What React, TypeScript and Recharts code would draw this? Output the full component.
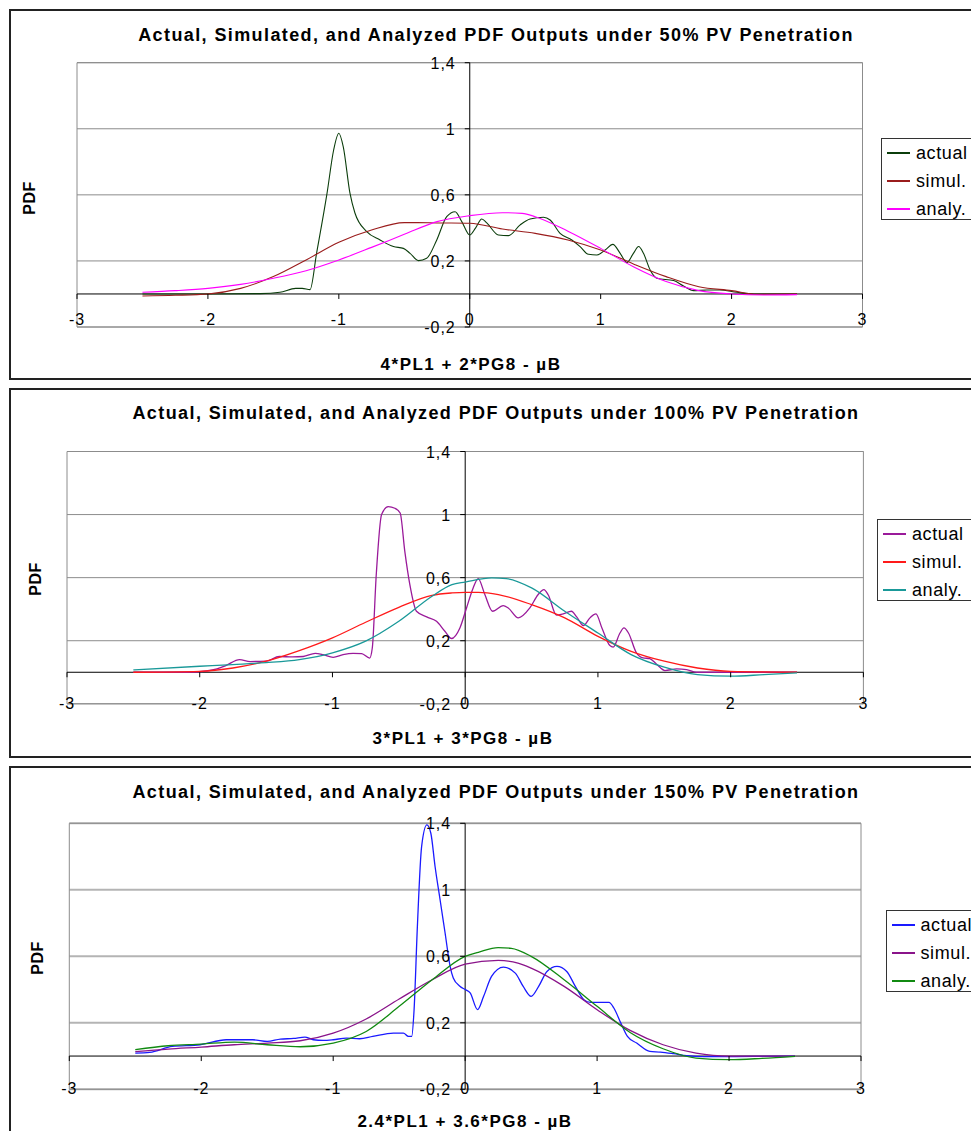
import React from 'react';
import { LineChart, Line, XAxis, YAxis, CartesianGrid, ReferenceLine } from 'recharts';

type Pt = [number, number];

// ---------- axis ticks and labels ----------
const X_TICKS = [-3, -2, -1, 0, 1, 2, 3];
const Y_TICKS = [-0.2, 0.2, 0.6, 1, 1.4];
const X_DOMAIN: [number, number] = [-3, 3];
const Y_DOMAIN: [number, number] = [-0.2, 1.4];
const SERIES_NAMES = ['actual', 'simul.', 'analy.'];

const TITLES = [
  'Actual, Simulated, and Analyzed PDF Outputs under 50% PV Penetration',
  'Actual, Simulated, and Analyzed PDF Outputs under 100% PV Penetration',
  'Actual, Simulated, and Analyzed PDF Outputs under 150% PV Penetration',
];
const X_TITLES = ['4*PL1 + 2*PG8 - µB', '3*PL1 + 3*PG8 - µB', '2.4*PL1 + 3.6*PG8 - µB'];
const Y_TITLE = 'PDF';

// ---------- 50% PV penetration ----------
const actual50: Pt[] = [
  [-2.5, 0], [-2.0, 0], [-1.6, 0.002], [-1.45, 0.01], [-1.33, 0.034], [-1.28, 0.034], [-1.22, 0.026],
  [-1.17, 0.246], [-1.09, 0.61], [-1.04, 0.87], [-1.0, 0.973], [-0.966, 0.89], [-0.915, 0.61],
  [-0.877, 0.49], [-0.787, 0.377], [-0.685, 0.327], [-0.583, 0.287], [-0.507, 0.276], [-0.456, 0.246],
  [-0.392, 0.202], [-0.329, 0.216], [-0.252, 0.327], [-0.176, 0.468], [-0.112, 0.498], [-0.061, 0.438],
  [0, 0.357], [0.045, 0.4], [0.092, 0.454], [0.13, 0.43], [0.219, 0.357], [0.296, 0.353], [0.385, 0.418],
  [0.461, 0.454], [0.563, 0.464], [0.614, 0.448], [0.69, 0.367], [0.78, 0.327], [0.843, 0.287],
  [0.907, 0.24], [0.97, 0.236], [1.034, 0.266], [1.093, 0.3], [1.149, 0.246], [1.2, 0.19], [1.25, 0.246],
  [1.29, 0.287], [1.327, 0.246], [1.378, 0.145], [1.43, 0.095], [1.557, 0.081], [1.633, 0.048],
  [1.71, 0.02], [1.81, 0.024], [1.91, 0.024], [2.04, 0.01], [2.17, 0], [2.5, 0],
];
const simul50: Pt[] = [
  [-2.5, -0.012], [-2.25, -0.008], [-2.0, 0], [-1.75, 0.034], [-1.5, 0.105], [-1.25, 0.206], [-1.0, 0.313],
  [-0.75, 0.387], [-0.5, 0.432], [-0.4, 0.432], [-0.25, 0.43], [0, 0.428], [0.25, 0.393], [0.5, 0.367],
  [0.75, 0.327], [1.0, 0.266], [1.25, 0.182], [1.5, 0.105], [1.75, 0.044], [2.0, 0.02], [2.2, -0.002], [2.5, 0],
];
const analy50: Pt[] = [
  [-2.5, 0.01], [-2.25, 0.02], [-2.0, 0.034], [-1.75, 0.058], [-1.5, 0.095], [-1.25, 0.141], [-1.0, 0.206],
  [-0.75, 0.282], [-0.5, 0.361], [-0.25, 0.438], [0, 0.474], [0.25, 0.492], [0.4, 0.488], [0.5, 0.468],
  [0.75, 0.38], [1.0, 0.276], [1.25, 0.165], [1.5, 0.075], [1.75, 0.02], [2.0, 0], [2.25, -0.006], [2.5, -0.004],
];

// ---------- 100% PV penetration ----------
const actual100: Pt[] = [
  [-2.5, 0], [-2.1, 0], [-1.95, 0.008], [-1.87, 0.021], [-1.8, 0.044], [-1.7, 0.08], [-1.62, 0.068],
  [-1.5, 0.07], [-1.4, 0.1], [-1.3, 0.097], [-1.22, 0.1], [-1.13, 0.12], [-1.07, 0.112], [-0.995, 0.095],
  [-0.92, 0.112], [-0.845, 0.12], [-0.78, 0.118], [-0.72, 0.09], [-0.7, 0.154], [-0.67, 0.62], [-0.63, 1.0],
  [-0.58, 1.05], [-0.53, 1.04], [-0.49, 1.01], [-0.455, 0.767], [-0.417, 0.556], [-0.367, 0.387],
  [-0.29, 0.351], [-0.216, 0.323], [-0.153, 0.26], [-0.103, 0.214], [-0.04, 0.281], [0.01, 0.408],
  [0.06, 0.535], [0.098, 0.594], [0.148, 0.493], [0.206, 0.387], [0.286, 0.423], [0.324, 0.408],
  [0.4, 0.345], [0.487, 0.408], [0.55, 0.493], [0.593, 0.524], [0.626, 0.49], [0.688, 0.362],
  [0.739, 0.37], [0.8, 0.387], [0.84, 0.351], [0.89, 0.296], [0.94, 0.345], [0.985, 0.37], [1.03, 0.281],
  [1.09, 0.169], [1.115, 0.16], [1.166, 0.249], [1.196, 0.281], [1.23, 0.249], [1.29, 0.123],
  [1.34, 0.091], [1.39, 0.087], [1.44, 0.053], [1.505, 0.011], [1.593, 0.021], [1.668, 0.017],
  [1.74, 0], [2.5, 0],
];
const simul100: Pt[] = [
  [-2.5, 0], [-2.0, 0.006], [-1.75, 0.027], [-1.5, 0.07], [-1.25, 0.137], [-1.0, 0.218], [-0.75, 0.317],
  [-0.5, 0.412], [-0.25, 0.488], [-0.1, 0.503], [0, 0.507], [0.1, 0.507], [0.25, 0.493], [0.5, 0.429],
  [0.75, 0.345], [1.0, 0.228], [1.25, 0.133], [1.5, 0.07], [1.75, 0.027], [2.0, 0.006], [2.5, 0],
];
const analy100: Pt[] = [
  [-2.5, 0.015], [-2.0, 0.038], [-1.75, 0.049], [-1.5, 0.061], [-1.25, 0.08], [-1.0, 0.123], [-0.75, 0.197],
  [-0.5, 0.323], [-0.25, 0.482], [-0.1, 0.556], [0, 0.572], [0.2, 0.598], [0.31, 0.594], [0.5, 0.535],
  [0.75, 0.387], [1.0, 0.249], [1.25, 0.112], [1.5, 0.032], [1.75, -0.015], [2.0, -0.025], [2.25, -0.015],
  [2.5, -0.004],
];

// ---------- 150% PV penetration ----------
const actual150: Pt[] = [
  [-2.5, 0.018], [-2.39, 0.022], [-2.22, 0.058], [-2.01, 0.068], [-1.81, 0.098], [-1.61, 0.098],
  [-1.5, 0.088], [-1.4, 0.102], [-1.3, 0.106], [-1.215, 0.114], [-1.15, 0.098], [-1.076, 0.094],
  [-1.0, 0.098], [-0.9, 0.108], [-0.8, 0.104], [-0.7, 0.118], [-0.544, 0.138], [-0.468, 0.138],
  [-0.43, 0.118], [-0.405, 0.118], [-0.387, 0.279], [-0.362, 0.78], [-0.33, 1.26], [-0.29, 1.39],
  [-0.26, 1.34], [-0.228, 1.14], [-0.19, 0.94], [-0.152, 0.74], [-0.114, 0.54], [-0.09, 0.47],
  [-0.04, 0.42], [0, 0.4], [0.038, 0.38], [0.094, 0.279], [0.14, 0.359], [0.2, 0.479], [0.29, 0.535],
  [0.38, 0.499], [0.44, 0.419], [0.5, 0.359], [0.557, 0.419], [0.62, 0.509], [0.696, 0.539],
  [0.77, 0.509], [0.835, 0.419], [0.9, 0.339], [0.95, 0.323], [1.025, 0.323], [1.09, 0.323],
  [1.127, 0.289], [1.18, 0.198], [1.23, 0.118], [1.3, 0.078], [1.4, 0.028], [1.48, 0.024],
  [1.58, 0.014], [1.68, 0.002], [1.81, -0.004], [2.19, -0.002], [2.5, 0],
];
const simul150: Pt[] = [
  [-2.5, 0.026], [-2.25, 0.042], [-2.0, 0.054], [-1.75, 0.068], [-1.5, 0.078], [-1.25, 0.092], [-1.0, 0.138],
  [-0.75, 0.223], [-0.5, 0.343], [-0.25, 0.459], [0, 0.553], [0.25, 0.575], [0.4, 0.559], [0.5, 0.529],
  [0.75, 0.419], [1.0, 0.279], [1.25, 0.154], [1.5, 0.068], [1.75, 0.018], [2.0, 0], [2.5, 0],
];
const analy150: Pt[] = [
  [-2.5, 0.038], [-2.25, 0.062], [-2.0, 0.072], [-1.75, 0.084], [-1.5, 0.068], [-1.25, 0.056], [-1.0, 0.078],
  [-0.75, 0.148], [-0.5, 0.299], [-0.25, 0.459], [0, 0.6], [0.1, 0.624], [0.25, 0.652], [0.35, 0.648],
  [0.5, 0.6], [0.75, 0.459], [1.0, 0.299], [1.25, 0.142], [1.5, 0.044], [1.75, -0.012], [2.0, -0.022],
  [2.25, -0.014], [2.5, -0.002],
];

const SERIES_DATA: Pt[][][] = [
  [actual50, simul50, analy50],
  [actual100, simul100, analy100],
  [actual150, simul150, analy150],
];
const SERIES_COLORS = [
  ['#0b3d0b', '#9a1c1c', '#ff00ff'],
  ['#9a1a9a', '#ff1a1a', '#1a9999'],
  ['#1a1aff', '#8a148a', '#118a11'],
];

// ---------- layout ----------
const FONT = '"Liberation Sans", Arial, Helvetica, sans-serif';
const CHART_W = 1000;
const AXIS_BAND = 1; // thickness reserved for each (invisible) axis band
const TICK_FONT = 16;

interface Layout {
  top: number;
  height: number;
  plotLeft: number;
  plotRight: number;
  plotTop: number;
  plotBottom: number;
  titleY: number;
  xTitleX: number;
  xTitleY: number;
  yTitleX: number;
  yTitleY: number;
  legendLeft: number;
  legendTop: number;
  xLabelDy: number;
  gridColor: string;
  gridWidth: number;
  lineWidth: number;
}

const LAYOUTS: Layout[] = [
  {
    top: 9, height: 371, plotLeft: 77, plotRight: 862.5, plotTop: 62.7, plotBottom: 327,
    titleY: 34.5, xTitleX: 471, xTitleY: 364, yTitleX: 30, yTitleY: 197.5,
    legendLeft: 881, legendTop: 138, xLabelDy: 31.5, gridColor: '#8c8c8c', gridWidth: 1, lineWidth: 1.1,
  },
  {
    top: 387.5, height: 370, plotLeft: 67, plotRight: 863.4, plotTop: 451, plotBottom: 703.3,
    titleY: 413, xTitleX: 463, xTitleY: 737.5, yTitleX: 36, yTitleY: 578.5,
    legendLeft: 877, legendTop: 519, xLabelDy: 37, gridColor: '#8c8c8c', gridWidth: 1, lineWidth: 1.3,
  },
  {
    top: 766, height: 380, plotLeft: 69.3, plotRight: 861, plotTop: 823.3, plotBottom: 1089.3,
    titleY: 791.5, xTitleX: 465, xTitleY: 1120.5, yTitleX: 38, yTitleY: 957.5,
    legendLeft: 885.5, legendTop: 910, xLabelDy: 37.5, gridColor: '#b4b4b4', gridWidth: 2, lineWidth: 1.3,
  },
];

const fmtComma = (v: number) => String(Math.round(v * 10) / 10).replace('.', ',');

function PdfPanel({ index }: { index: number }) {
  const L = LAYOUTS[index];
  const data = SERIES_DATA[index];
  const colors = SERIES_COLORS[index];

  const plotW = L.plotRight - L.plotLeft;
  const plotH = L.plotBottom - L.plotTop;
  // pixel position of the crossing axes inside the chart's svg
  const zeroY = L.plotTop - L.top + (plotH * (Y_DOMAIN[1] - 0)) / (Y_DOMAIN[1] - Y_DOMAIN[0]);
  const zeroX = L.plotLeft + (plotW * (0 - X_DOMAIN[0])) / (X_DOMAIN[1] - X_DOMAIN[0]);

  const XTick = (props: any) => {
    const { x, payload } = props;
    return (
      <g>
        <line x1={x} x2={x} y1={zeroY} y2={zeroY + 5} stroke="#000" strokeWidth={1} />
        <text x={x} y={zeroY + L.xLabelDy} textAnchor="middle" fontSize={TICK_FONT} fontFamily={FONT} fill="#000" letterSpacing={1}>
          {payload.value}
        </text>
      </g>
    );
  };

  const YTick = (props: any) => {
    const { y, payload } = props;
    return (
      <g>
        <line x1={zeroX - 5} x2={zeroX} y1={y} y2={y} stroke="#000" strokeWidth={1} />
        <text x={zeroX - 14} y={y + 6} textAnchor="end" fontSize={TICK_FONT} fontFamily={FONT} fill="#000" letterSpacing={1}>
          {fmtComma(payload.value)}
        </text>
      </g>
    );
  };

  const textBase: React.CSSProperties = {
    position: 'absolute',
    fontFamily: FONT,
    fontWeight: 'bold',
    lineHeight: 1,
    whiteSpace: 'nowrap',
    color: '#000',
  };

  return (
    <>
      <div
        style={{
          position: 'absolute', left: 9, top: L.top, width: 1010, height: L.height,
          border: '2px solid #222', boxSizing: 'border-box', background: '#fff',
        }}
      />
      <div style={{ position: 'absolute', left: 0, top: L.top }}>
        <LineChart
          width={CHART_W}
          height={L.height}
          margin={{
            top: L.plotTop - L.top,
            bottom: L.top + L.height - L.plotBottom - AXIS_BAND,
            left: L.plotLeft - AXIS_BAND,
            right: CHART_W - L.plotRight,
          }}
        >
          <CartesianGrid vertical={false} stroke={L.gridColor} strokeWidth={L.gridWidth} />
          <XAxis
            type="number" dataKey="0" domain={X_DOMAIN} ticks={X_TICKS} interval={0}
            allowDataOverflow height={AXIS_BAND} axisLine={false} tickLine={false} tickSize={0} tick={XTick}
          />
          <YAxis
            type="number" domain={Y_DOMAIN} ticks={Y_TICKS} interval={0}
            allowDataOverflow width={AXIS_BAND} axisLine={false} tickLine={false} tickSize={0} tick={YTick}
          />
          <ReferenceLine y={Y_DOMAIN[1]} stroke="#8c8c8c" />
          <ReferenceLine y={Y_DOMAIN[0]} stroke="#8c8c8c" />
          <ReferenceLine x={X_DOMAIN[0]} stroke="#8c8c8c" />
          <ReferenceLine x={X_DOMAIN[1]} stroke="#8c8c8c" />
          <ReferenceLine y={0} stroke="#000" />
          <ReferenceLine x={0} stroke="#000" />
          {data.map((series, i) => (
            <Line
              key={SERIES_NAMES[i]}
              name={SERIES_NAMES[i]}
              data={series}
              dataKey="1"
              type="monotone"
              stroke={colors[i]}
              strokeWidth={L.lineWidth}
              dot={false}
              activeDot={false}
              isAnimationActive={false}
            />
          ))}
        </LineChart>
      </div>

      <div style={{ ...textBase, left: 496, top: L.titleY, fontSize: 18, letterSpacing: 1.4, transform: 'translate(-50%, -50%)' }}>
        {TITLES[index]}
      </div>
      <div style={{ ...textBase, left: L.xTitleX, top: L.xTitleY, fontSize: 17, letterSpacing: 1.5, transform: 'translate(-50%, -50%)' }}>
        {X_TITLES[index]}
      </div>
      <div style={{ ...textBase, left: L.yTitleX, top: L.yTitleY, fontSize: 16, letterSpacing: 0.5, transform: 'translate(-50%, -50%) rotate(-90deg)' }}>
        {Y_TITLE}
      </div>

      <div
        style={{
          position: 'absolute', left: L.legendLeft, top: L.legendTop, width: 110, height: 82,
          border: '1px solid #333', boxSizing: 'border-box', background: '#fff',
        }}
      >
        {SERIES_NAMES.map((name, i) => (
          <div key={name} style={{ position: 'absolute', left: 0, top: 14 + 28 * i, width: 110 }}>
            <div style={{ position: 'absolute', left: 5, width: 23, top: -1, height: 2, background: colors[i] }} />
            <div
              style={{
                position: 'absolute', left: 34, top: 0, transform: 'translateY(-50%)', fontFamily: FONT,
                fontSize: 18, lineHeight: 1, letterSpacing: 0.6, whiteSpace: 'nowrap', color: '#000',
              }}
            >
              {name}
            </div>
          </div>
        ))}
      </div>
    </>
  );
}

export default function App() {
  return (
    <div
      style={{
        position: 'fixed', left: 0, top: 0, width: 971, height: 1131, overflow: 'hidden', background: '#fff',
      }}
    >
      {TITLES.map((_, i) => (
        <PdfPanel key={i} index={i} />
      ))}
    </div>
  );
}
